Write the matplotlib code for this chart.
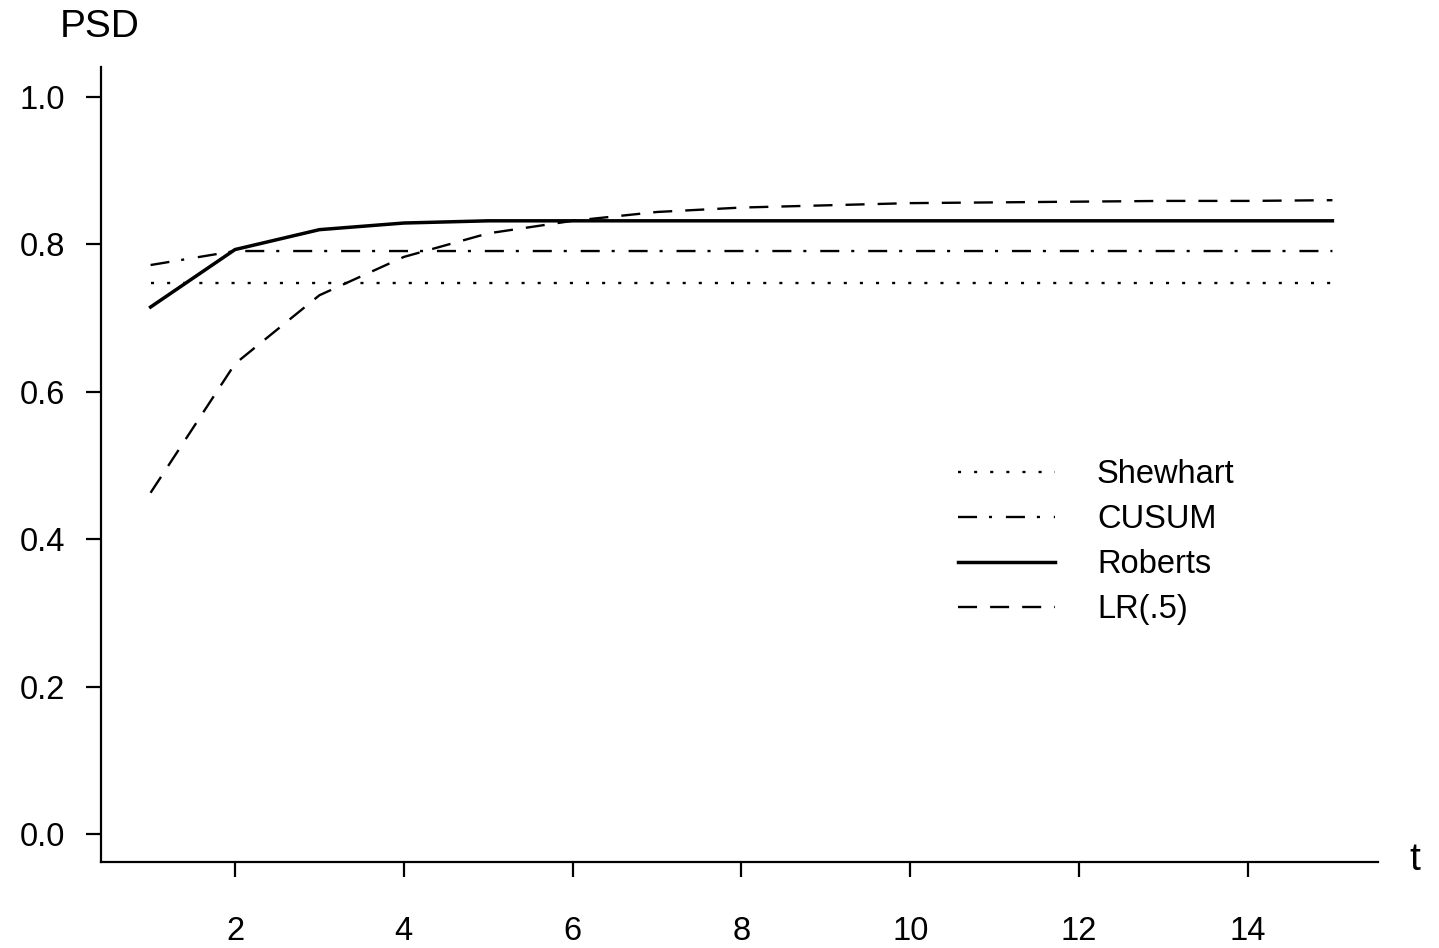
import matplotlib
matplotlib.use("Agg")
import matplotlib.pyplot as plt

plt.rcParams['font.family'] = ['Liberation Sans', 'DejaVu Sans']
plt.rcParams['lines.scale_dashes'] = False

t = [1, 2, 3, 4, 5, 6, 7, 8, 9, 10, 11, 12, 13, 14, 15]
shewhart = [0.748] * 15
cusum = [0.772, 0.791, 0.791, 0.791, 0.791, 0.791, 0.791, 0.791, 0.791, 0.791, 0.791, 0.791, 0.791, 0.791, 0.791]
roberts = [0.715, 0.793, 0.820, 0.829, 0.832, 0.832, 0.832, 0.832, 0.832, 0.832, 0.832, 0.832, 0.832, 0.832, 0.832]
lr5 = [0.463, 0.638, 0.731, 0.783, 0.815, 0.832, 0.844, 0.850, 0.853, 0.856, 0.857, 0.858, 0.859, 0.859, 0.860]

xticks = [2, 4, 6, 8, 10, 12, 14]
yticks = [0.0, 0.2, 0.4, 0.6, 0.8, 1.0]
ytick_labels = ["0.0", "0.2", "0.4", "0.6", "0.8", "1.0"]

FS = 23.5

fig = plt.figure(figsize=(14.39, 9.48), dpi=100)
L, R, T, B = 101, 1378, 67, 862
ax = fig.add_axes([L/1439, (948-B)/948, (R-L)/1439, (B-T)/948])

ax.plot(t, shewhart, color='black', lw=1.7, dashes=(2.2, 9.4), label='Shewhart')
ax.plot(t, cusum, color='black', lw=1.7, dashes=(13.7, 8.6, 2.2, 10.0), label='CUSUM')
ax.plot(t, roberts, color='black', lw=2.5, label='Roberts')
ax.plot(t, lr5, color='black', lw=1.7, dashes=(13.7, 9.4), label='LR(.5)')

# x: 2 -> 235 px, 14 -> 1248 px ; y: 0 -> 834 px, 1 -> 97 px
xpx = (1248 - 235) / 12.0
ypx = (834 - 97) / 1.0
ax.set_xlim(2 - (235 - L) / xpx, 14 + (R - 1248) / xpx)
ax.set_ylim(0 - (B - 834) / ypx, 1 + (97 - T) / ypx)
ax.set_xticks(xticks)
ax.set_yticks(yticks)
ax.set_yticklabels(ytick_labels)

for s in ['top', 'right']:
    ax.spines[s].set_visible(False)
for s in ['left', 'bottom']:
    ax.spines[s].set_linewidth(1.6)
ax.tick_params(axis='both', direction='out', length=11, width=1.6, labelsize=FS)
ax.tick_params(axis='y', pad=15)
ax.tick_params(axis='x', pad=28)

fig.text(100/1439, 1 - 27/948, 'PSD', ha='center', va='center', fontsize=28)
fig.text(1415/1439, 1 - 860/948, 't', ha='center', va='center', fontsize=28)

leg = ax.legend(loc='upper left', bbox_to_anchor=((958-L)/(R-L), (B-459)/(B-T)),
                frameon=False, fontsize=FS, handlelength=2.97, handletextpad=1.29,
                labelspacing=0.43, borderpad=0, borderaxespad=0)

fig.savefig('out.png', dpi=100)
